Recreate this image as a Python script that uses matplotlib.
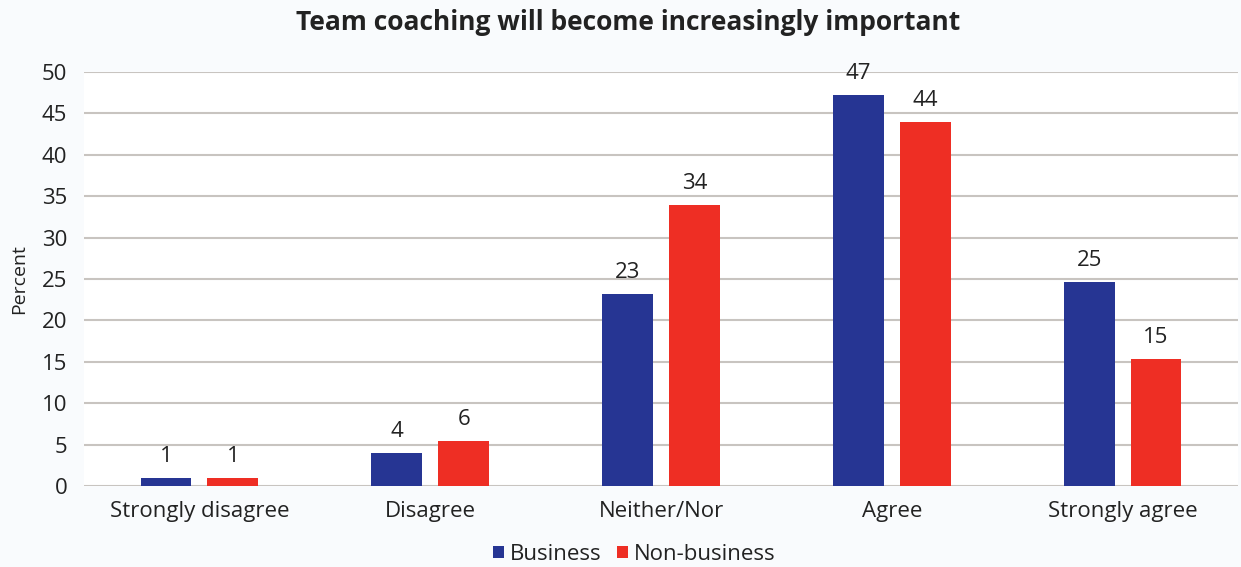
import numpy as np
import matplotlib.pyplot as plt

categories = ['Strongly disagree', 'Disagree', 'Neither/Nor', 'Agree', 'Strongly agree']
business = [1.0, 4.0, 23.2, 47.2, 24.6]
non_business = [1.0, 5.4, 33.9, 44.0, 15.3]
business_labels = ['1', '4', '23', '47', '25']
non_business_labels = ['1', '6', '34', '44', '15']

plt.rcParams['font.family'] = ['Open Sans', 'DejaVu Sans']

bg = '#f9fbfd'
blue = '#263593'
red = '#ee2e24'
txt = '#222222'

fig = plt.figure(figsize=(12.41, 5.67), dpi=100, facecolor=bg)
ax = fig.add_axes([0.0677, 0.1429, 0.9299, 0.7302])
ax.set_facecolor('white')

x = np.arange(len(categories))
w = 0.22
off = 0.145
b1 = ax.bar(x - off, business, w, color=blue, label='Business', zorder=3)
b2 = ax.bar(x + off, non_business, w, color=red, label='Non-business', zorder=3)

for bars, labs in ((b1, business_labels), (b2, non_business_labels)):
    for r, t in zip(bars, labs):
        ax.annotate(t, (r.get_x() + r.get_width() / 2, r.get_height()),
                    xytext=(0, 8), textcoords='offset points',
                    ha='center', va='bottom', fontsize=16, color=txt)

ax.set_xlim(-0.5, len(categories) - 0.5)
ax.set_ylim(0, 50)
ax.set_yticks(range(0, 51, 5))
ax.set_xticks(x)
ax.set_xticklabels(categories)
ax.tick_params(axis='both', length=0, labelsize=16, colors=txt)
ax.tick_params(axis='x', pad=11)
ax.tick_params(axis='y', pad=12)
ax.grid(axis='y', color='#c8c4c0', linewidth=1.5, zorder=0)
for s in ax.spines.values():
    s.set_visible(False)

ax.set_ylabel('Percent', fontsize=14, color=txt, labelpad=10)
fig.text(0.506, 0.961, 'Team coaching will become increasingly important',
         ha='center', va='center', fontsize=19, fontweight='bold', color=txt)

leg = fig.legend(loc='center', bbox_to_anchor=(0.511, 0.022), ncol=2,
                 frameon=False, fontsize=16, handlelength=0.5, handleheight=0.5,
                 handletextpad=0.25, columnspacing=0.7, borderpad=0)
for t in leg.get_texts():
    t.set_color(txt)

fig.savefig('out.png', dpi=100, facecolor=bg)
